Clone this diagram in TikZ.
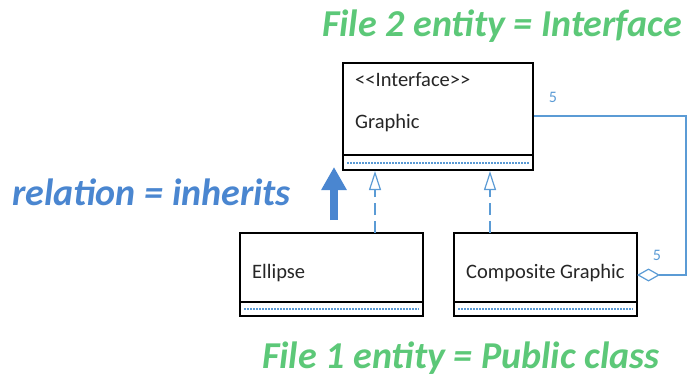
\documentclass[tikz,border=0pt]{standalone}
\usepackage{fontspec}
\setmainfont{Carlito}
\usetikzlibrary{arrows.meta}
\definecolor{lineblue}{HTML}{5B9BD5}
\definecolor{arrowblue}{HTML}{4A86D0}
\definecolor{titlegreen}{HTML}{5CC878}
\tikzset{
  umlbox/.style={draw=black, line width=1.3pt, fill=white},
  dotsep/.style={draw=lineblue, line width=1.1pt, dash pattern=on 2pt off 1pt},
  boxtext/.style={font=\fontsize{20.5}{22}\selectfont, text=black!85, anchor=base west, inner sep=0pt},
  title/.style={font=\fontsize{38}{42}\selectfont\bfseries\itshape, inner sep=0pt, anchor=base west},
  mult/.style={font=\fontsize{16}{18}\selectfont, text=lineblue, inner sep=0pt},
  realize/.style={draw=lineblue, line width=1.3pt, dash pattern=on 12pt off 6pt, -{Triangle[open, width=12pt, length=19pt, line width=1.2pt]}},
  agg/.style={draw=lineblue, line width=1.3pt, -{Diamond[open, width=13pt, length=23pt, line width=1.2pt]}}
}
\begin{document}
\begin{tikzpicture}[x=1pt,y=-1pt]
\useasboundingbox (0,0) rectangle (688,377);
% Graphic box
\draw[umlbox] (343,63) rectangle (533,170);
\draw[black, line width=1.3pt] (343,155) -- (533,155);
\draw[dotsep] (347,163) -- (529,163);
\node[boxtext] (stereo) at (355,87) {{<}{<}Interface{>}{>}};
\node[boxtext] (gname) at (355,129) {Graphic};
% Ellipse box
\draw[umlbox] (240,233) rectangle (423,316);
\draw[black, line width=1.3pt] (240,302) -- (423,302);
\draw[dotsep] (244,309) -- (419,309);
\node[boxtext] (ename) at (252,278) {Ellipse};
% Composite box
\draw[umlbox] (454,233) rectangle (637,316);
\draw[black, line width=1.3pt] (454,302) -- (637,302);
\draw[dotsep] (458,309) -- (633,309);
\node[boxtext] (cname) at (466,278) {Composite Graphic};
% connector coordinates
\coordinate (e1) at (375,233);
\coordinate (g1) at (375,171);
\coordinate (c1) at (490,233);
\coordinate (g2) at (490,171);
\coordinate (gr) at (534,116);
\coordinate (cr) at (637,275);
\coordinate (k1) at (686,116);
\coordinate (k2) at (686,275);
\draw[realize] (e1) -- (g1);
\draw[realize] (c1) -- (g2);
\draw[agg] (gr) -- (k1) -- (k2) -- (cr);
\node[mult] (m1) at (553,97) {5};
\node[mult] (m2) at (657,255) {5};
% big arrow
\coordinate (ba) at (334,220);
\coordinate (bb) at (334,167);
\draw[arrowblue, line width=8.5pt, -{Triangle[width=24pt, length=23pt]}] (ba) -- (bb);
% titles
\node[title, text=titlegreen] (t1) at (322,37) {File 2 entity = Interface};
\node[title, text=titlegreen] (t2) at (262,368) {File 1 entity = Public class};
\node[title, text=arrowblue] (t3) at (12,205) {relation = inherits};
\end{tikzpicture}
\end{document}
